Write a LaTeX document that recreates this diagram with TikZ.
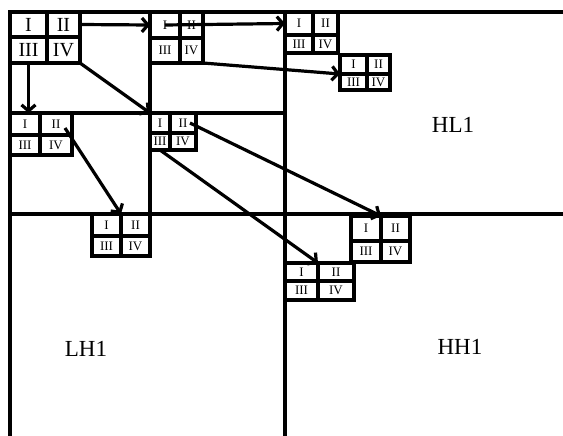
\documentclass[tikz,border=0pt]{standalone}
\usepackage{fontspec}
\setmainfont{Liberation Serif}
\usetikzlibrary{arrows.meta}

% one 2x2 block: name, top left, inner corner, bottom right, text style
\newcommand{\quadblock}[8]{%
  \node[cell, #8, minimum width={(#4-#2)*1pt}, minimum height={(#5-#3)*1pt}] (#1-I) at (#2,#3) {I};
  \node[cell, #8, minimum width={(#6-#4)*1pt}, minimum height={(#5-#3)*1pt}] (#1-II) at (#4,#3) {II};
  \node[cell, #8, minimum width={(#4-#2)*1pt}, minimum height={(#7-#5)*1pt}] (#1-III) at (#2,#5) {III};
  \node[cell, #8, minimum width={(#6-#4)*1pt}, minimum height={(#7-#5)*1pt}] (#1-IV) at (#4,#5) {IV};
}

\begin{document}
\begin{tikzpicture}[x=1pt, y=-1pt,
      cell/.style = {
        rectangle, draw=black, line width=3.2pt, inner sep=0pt,
        outer sep=0pt, anchor=north west },
      bigtext/.style = { font=\fontsize{20}{22}\selectfont },
      smalltext/.style = { font=\fontsize{13}{14}\selectfont },
      band/.style = { font=\fontsize{23}{25}\selectfont },
      frame/.style = { draw, line width=3.2pt },
      line/.style = { draw, line width=3.2pt, -{Straight Barb[length=6pt, width=14pt]} }]
    \useasboundingbox (0,0) rectangle (563,436);
    % subband borders
    \draw[frame] (10,436) -- (10,12) -- (563,12);
    \draw[frame] (10,214) -- (563,214);
    \draw[frame] (285,12) -- (285,436);
    \draw[frame] (150,12) -- (150,214);
    \draw[frame] (10,113) -- (285,113);
    % blocks
    \quadblock{b1}{10}{12}{47}{37}{80}{63}{bigtext}
    \quadblock{b2}{150}{12}{180}{38}{203}{63}{smalltext}
    \quadblock{b3}{285}{12}{313}{35}{338}{53}{smalltext}
    \quadblock{b4}{340}{55}{367}{74}{390}{90}{smalltext}
    \quadblock{b5}{10}{113}{40}{135}{72}{155}{smalltext}
    \quadblock{b6}{150}{113}{170}{133}{196}{150}{smalltext}
    \quadblock{b7}{92}{214}{121}{236}{150}{256}{smalltext}
    \quadblock{b8}{351}{216}{381}{241}{410}{262}{smalltext}
    \quadblock{b9}{285}{263}{318}{281}{354}{300}{smalltext}
    % band names
    \node[band] (hl) at (453,125) {HL1};
    \node[band] (lh) at (86,349) {LH1};
    \node[band] (hh) at (460,347) {HH1};
    % scan order
    \draw[line] (b1-II.east) -- (b2-I.west);
    \draw[line] (b2-I.center) -- (b3-I.west);
    \draw[line] (b1-III.south) -- (b1-III.south |- b5-I.north);
    \draw[line] (b1-IV.south east) -- (b6-I.north west);
    \draw[line] (b2-IV.south east) -- (b4-I.south west);
    \draw[line] ([xshift=9pt,yshift=-4pt]b5-II.center) -- (b7-I.north east);
    \draw[line] ([xshift=7pt]b6-II.center) -- (b8-I.north east);
    \draw[line] (b6-III.south) -- (b9-I.north east);
  \end{tikzpicture}
\end{document}
